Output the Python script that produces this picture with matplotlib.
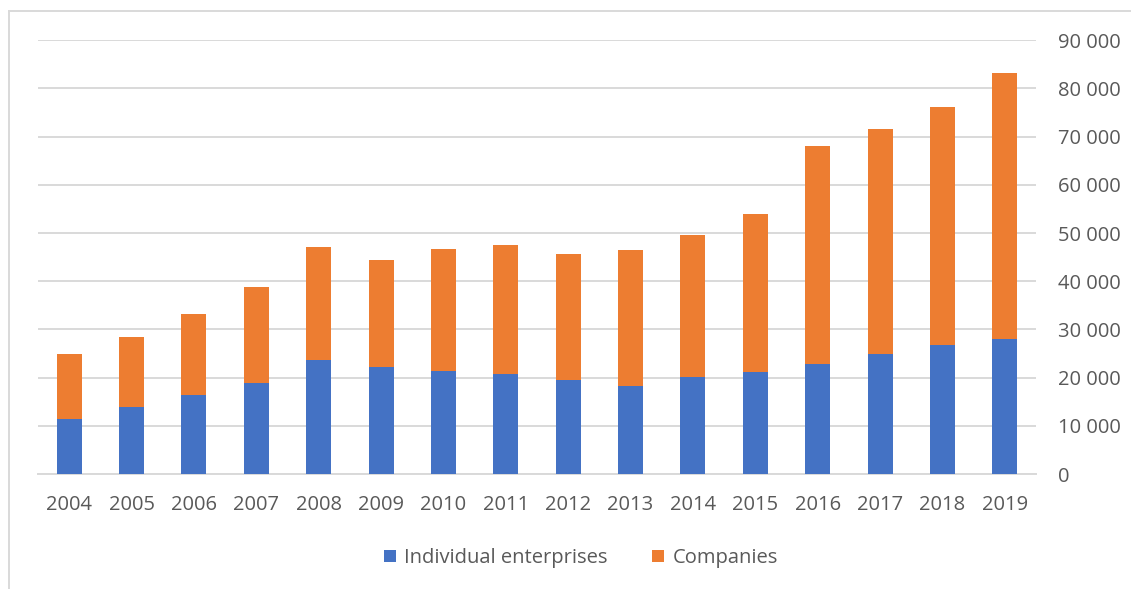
import numpy as np
import matplotlib.pyplot as plt
from matplotlib.lines import Line2D
from matplotlib.ticker import FuncFormatter

years = ['2004', '2005', '2006', '2007', '2008', '2009', '2010', '2011',
         '2012', '2013', '2014', '2015', '2016', '2017', '2018', '2019']
individual = [11500, 13800, 16400, 18800, 23700, 22300, 21400, 20700,
              19600, 18300, 20100, 21200, 22800, 24900, 26700, 28100]
totals = [24900, 28400, 33100, 38800, 47100, 44500, 46700, 47500,
          45700, 46400, 49500, 54000, 68100, 71600, 76200, 83200]
companies = [t - i for t, i in zip(totals, individual)]

BLUE = '#4472C4'
ORANGE = '#ED7D31'
GRID = '#D9D9D9'
TEXT = '#595959'

plt.rcParams['font.family'] = ['Open Sans', 'DejaVu Sans']

fig = plt.figure(figsize=(11.31, 5.89), dpi=100)
W, H = 1131, 589
ax = fig.add_axes([38 / W, 1 - 474 / H, (1036 - 38) / W, (474 - 40.3) / H])

x = np.arange(len(years))
ax.bar(x, individual, width=0.4, color=BLUE, label='Individual enterprises', zorder=3)
ax.bar(x, companies, width=0.4, bottom=individual, color=ORANGE, label='Companies', zorder=3)

ax.set_xlim(-0.5, len(years) - 0.5)
ax.set_ylim(0, 90000)
ax.set_yticks(np.arange(0, 90001, 10000))
ax.yaxis.set_major_formatter(FuncFormatter(lambda v, p: f'{int(v):,}'.replace(',', ' ')))
ax.yaxis.tick_right()
ax.grid(axis='y', color=GRID, linewidth=1.4, zorder=0)
ax.set_xticks(x)
ax.set_xticklabels(years)
ax.tick_params(axis='both', length=0, labelsize=14.5, colors=TEXT)
ax.tick_params(axis='x', pad=15)
ax.tick_params(axis='y', pad=16)
for lbl in ax.get_yticklabels():
    lbl.set_horizontalalignment('left')
for side in ['top', 'left', 'right']:
    ax.spines[side].set_visible(False)
ax.spines['bottom'].set_color(GRID)
ax.spines['bottom'].set_linewidth(1.4)

handles, labels = ax.get_legend_handles_labels()
fig.legend(handles, labels, loc='center', bbox_to_anchor=(581 / W, 1 - 558 / H),
           ncol=2, frameon=False, fontsize=14.5, labelcolor=TEXT,
           handlelength=0.6, handleheight=0.6, handletextpad=0.4, columnspacing=2.2)

# chart frame, left and top edges
fig.add_artist(Line2D([9 / W, 9 / W], [0, 1 - 11 / H], color=GRID, linewidth=1.4))
fig.add_artist(Line2D([9 / W, 1], [1 - 11 / H, 1 - 11 / H], color=GRID, linewidth=1.4))

fig.savefig('out.png', dpi=100)
